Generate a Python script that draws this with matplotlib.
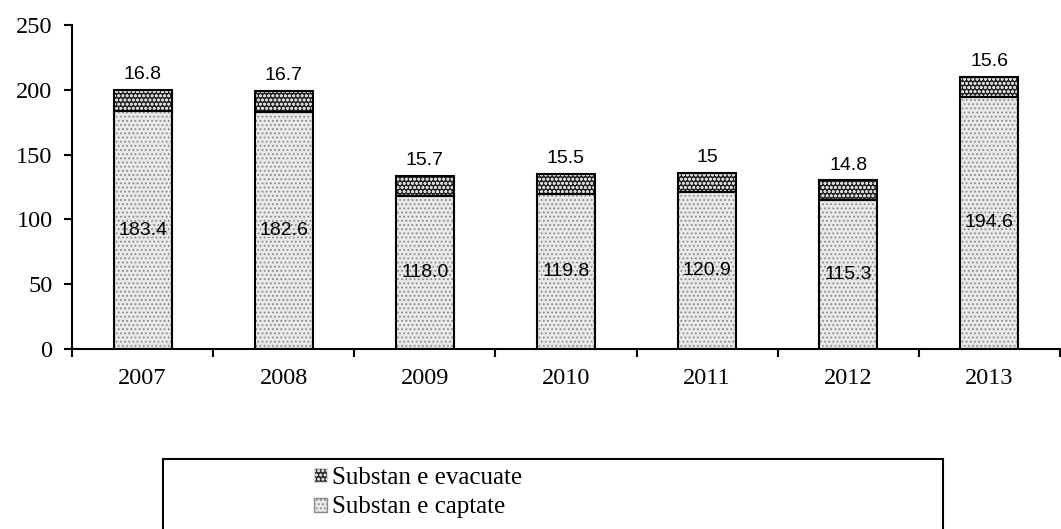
import numpy as np
import matplotlib.pyplot as plt
from matplotlib.patches import Rectangle

plt.rcParams['hatch.linewidth'] = 0.8

years = ["2007", "2008", "2009", "2010", "2011", "2012", "2013"]
captate = [183.4, 182.6, 118.0, 119.8, 120.9, 115.3, 194.6]
evacuate = [16.8, 16.7, 15.7, 15.5, 15.0, 14.8, 15.6]
captate_labels = ["183.4", "182.6", "118.0", "119.8", "120.9", "115.3", "194.6"]
evacuate_labels = ["16.8", "16.7", "15.7", "15.5", "15", "14.8", "15.6"]

fig = plt.figure(figsize=(10.61, 5.29), dpi=100)
ax = fig.add_axes([72 / 1061, 180 / 529, 988 / 1061, 324 / 529])

x = np.arange(len(years))
w = 0.41

# hatched fills, then black outlines on top
ax.bar(x, captate, w, color="#e8e8e8", edgecolor="#8a8a8a", hatch="....", linewidth=0)
ax.bar(x, evacuate, w, bottom=captate, color="#222222", edgecolor="#d8d8d8", hatch="oooo", linewidth=0)
ax.bar(x, captate, w, fill=False, edgecolor="black", linewidth=1.5)
ax.bar(x, evacuate, w, bottom=captate, fill=False, edgecolor="black", linewidth=1.5)

for i in range(len(years)):
    ax.text(x[i], captate[i] / 2, captate_labels[i], ha="center", va="center",
            fontsize=14, family="Liberation Sans")
    ax.text(x[i], captate[i] + evacuate[i] + 5, evacuate_labels[i], ha="center", va="bottom",
            fontsize=14, family="Liberation Sans")

ax.set_xlim(-0.5, len(years) - 0.5)
ax.set_ylim(0, 250)
ax.set_yticks(range(0, 251, 50))
ax.set_xticks(x)
ax.set_xticklabels(years)
ax.set_xticks(np.arange(-0.5, len(years), 1), minor=True)
ax.tick_params(axis="x", which="major", length=0, pad=14)
ax.tick_params(axis="x", which="minor", length=6, width=1.5, direction="out")
ax.tick_params(axis="y", length=6, width=1.5, direction="out", pad=8)
for lab in ax.get_xticklabels() + ax.get_yticklabels():
    lab.set_family("Liberation Serif")
    lab.set_fontsize(17.5)
ax.spines["top"].set_visible(False)
ax.spines["right"].set_visible(False)
ax.spines["left"].set_linewidth(1.5)
ax.spines["bottom"].set_linewidth(1.5)

# legend box
fig.patches.append(Rectangle((163 / 1061, -0.05), 780 / 1061, (529 - 459) / 529 + 0.05,
                             transform=fig.transFigure, fill=False, edgecolor="black",
                             linewidth=1.5))
h_ev = Rectangle((0, 0), 1, 1, facecolor="#222222", edgecolor="#d8d8d8", hatch="oooo")
h_ca = Rectangle((0, 0), 1, 1, facecolor="#e8e8e8", edgecolor="#8a8a8a", hatch="....")
fig.legend([h_ev, h_ca], ["Substan e evacuate", "Substan e captate"],
           loc="upper left", bbox_to_anchor=(314 / 1061, (529 - 467) / 529), frameon=False,
           prop={"family": "Liberation Serif", "size": 18},
           handlelength=0.5, handleheight=0.5, handletextpad=0.2, labelspacing=0.3,
           borderpad=0, borderaxespad=0)

fig.savefig("out.png", dpi=100)
